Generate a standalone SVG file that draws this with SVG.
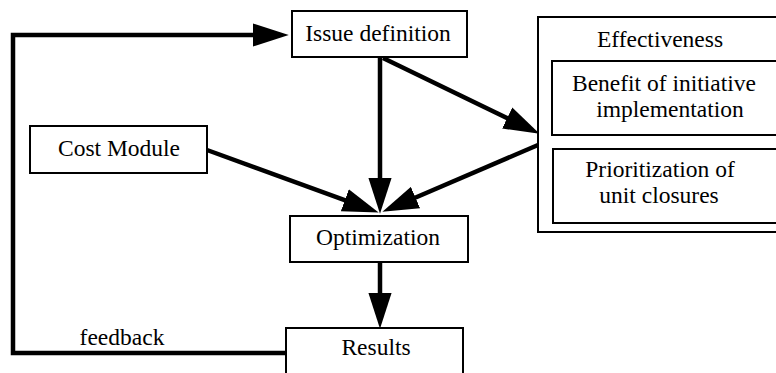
<svg xmlns="http://www.w3.org/2000/svg" width="776" height="373" viewBox="0 0 776 373">
<defs>
<style>
.box{fill:#fff;stroke:#000;stroke-width:2}
.t{font-family:'Liberation Serif','Times New Roman',serif;font-size:23.5px;fill:#000;text-anchor:middle}
.c{fill:none;stroke:#000;stroke-width:4.5;stroke-linejoin:miter}
</style>
<marker id="ah" markerUnits="userSpaceOnUse" markerWidth="36" markerHeight="24" refX="4" refY="11" orient="auto" viewBox="0 0 34 22">
<path d="M0,0 L34,11 L0,22 z" fill="#000"/>
</marker>
</defs>
<rect width="776" height="373" fill="#fff"/>
<g id="connectors">
<path class="c" d="M286,353 L13,353 L13,35 L257,35" marker-end="url(#ah)"/>
<path class="c" d="M380,57 L380,182" marker-end="url(#ah)"/>
<path class="c" d="M207,150 L348.8,201.7" marker-end="url(#ah)"/>
<path class="c" d="M383,58 L511,119.9" marker-end="url(#ah)"/>
<path class="c" d="M538,145 L411.6,199.2" marker-end="url(#ah)"/>
<path class="c" d="M380,262 L380,297" marker-end="url(#ah)"/>
<text class="t" x="122" y="345">feedback</text>
</g>
<g id="issue">
<rect class="box" x="292" y="11" width="175" height="46"/>
<text class="t" x="378" y="41">Issue definition</text>
</g>
<g id="cost">
<rect class="box" x="30" y="126" width="177" height="47"/>
<text class="t" x="119" y="156">Cost Module</text>
</g>
<g id="optimization">
<rect class="box" x="290" y="216" width="178" height="46"/>
<text class="t" x="378" y="245">Optimization</text>
</g>
<g id="results">
<rect class="box" x="286" y="328" width="177" height="60"/>
<text class="t" x="376" y="355">Results</text>
</g>
<g id="effectiveness">
<rect class="box" x="538" y="17" width="260" height="215"/>
<text class="t" x="660" y="47">Effectiveness</text>
</g>
<g id="benefit">
<rect class="box" x="552" y="61" width="240" height="74"/>
<text class="t" x="664" y="91">Benefit of initiative</text>
<text class="t" x="670" y="117">implementation</text>
</g>
<g id="prioritization">
<rect class="box" x="553" y="149" width="240" height="74"/>
<text class="t" x="660" y="177">Prioritization of</text>
<text class="t" x="659" y="203">unit closures</text>
</g>
</svg>
